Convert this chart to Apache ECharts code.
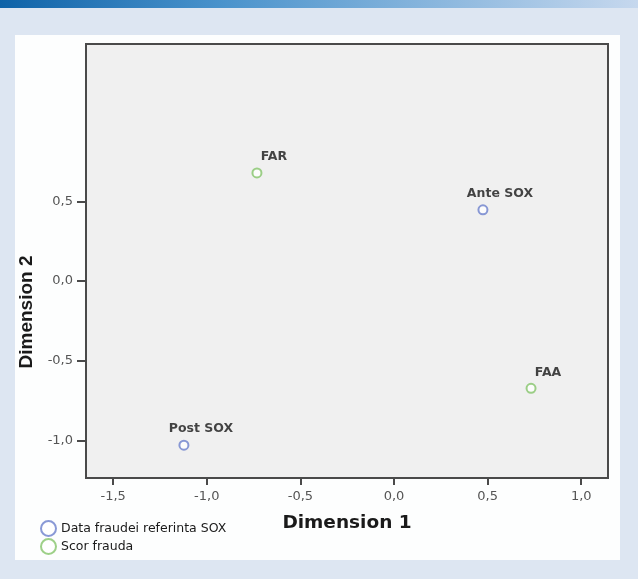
<!DOCTYPE html>
<html>
<head>
<meta charset="utf-8">
<script src="https://cdn.jsdelivr.net/npm/echarts@6/dist/echarts.min.js"></script>
<style>
  html, body { margin: 0; padding: 0; background: #dde6f2; }
  #chart { width: 638px; height: 579px; }
</style>
</head>
<body>
<div id="chart"></div>
<script>
// Joint plot of category points (two-dimensional solution)
const seriesNames = ['Data fraudei referinta SOX', 'Scor frauda'];
const soxLabels = ['Ante SOX', 'Post SOX'];
const soxDim1 = [0.475, -1.122];
const soxDim2 = [0.447, -1.028];
const scoreLabels = ['FAR', 'FAA'];
const scoreDim1 = [-0.732, 0.732];
const scoreDim2 = [0.678, -0.672];
const xTicks = [-1.5, -1.0, -0.5, 0.0, 0.5, 1.0];
const yTicks = [-1.0, -0.5, 0.0, 0.5];
const xRange = [-1.645, 1.143];
const yRange = [-1.234, 1.486];

function toPoints(xs, ys, names) {
  return xs.map((x, i) => ({ value: [x, ys[i]], name: names[i] }));
}
const fmt = v => v.toFixed(1).replace('.', ',');

const AXIS = '#4a4a4a';
const chart = echarts.init(document.getElementById('chart'));
const labelStyle = {
  show: true,
  position: 'top',
  distance: 4,
  offset: [17, 0],
  formatter: p => p.name,
  color: '#161616',
  fontFamily: 'DejaVu Sans, sans-serif',
  fontWeight: 'bold',
  fontSize: 12.5
};
const tickFont = {
  color: '#555555', fontSize: 13, fontFamily: 'DejaVu Sans, sans-serif'
};

chart.setOption({
  backgroundColor: '#dde6f2',
  animation: false,
  graphic: [
    {
      type: 'rect', z: -10,
      shape: { x: 0, y: 0, width: 638, height: 8 },
      style: {
        fill: new echarts.graphic.LinearGradient(0, 0, 1, 0, [
          { offset: 0, color: '#0f63a8' },
          { offset: 0.35, color: '#4a93cc' },
          { offset: 1, color: '#c6d8ee' }
        ])
      }
    },
    {
      type: 'rect', z: -10,
      shape: { x: 15, y: 35, width: 605, height: 525 },
      style: { fill: '#fdfefe' }
    }
  ],
  grid: {
    left: 86, top: 44, width: 522, height: 434,
    show: true,
    backgroundColor: '#f0f0f0',
    borderColor: AXIS,
    borderWidth: 2
  },
  legend: {
    orient: 'vertical',
    left: 35, top: 515,
    itemWidth: 15, itemHeight: 15,
    itemGap: 1,
    icon: 'emptyCircle',
    itemStyle: { borderWidth: 1.2 },
    textStyle: {
      color: '#1a1a1a',
      fontFamily: 'DejaVu Sans, sans-serif',
      fontSize: 12.5
    },
    data: seriesNames
  },
  xAxis: {
    type: 'value',
    min: xRange[0], max: xRange[1],
    name: 'Dimension 1',
    nameLocation: 'middle',
    nameGap: 36,
    nameTextStyle: {
      color: '#1a1a1a', fontWeight: 'bold', fontSize: 18.5,
      fontFamily: 'DejaVu Sans, sans-serif'
    },
    splitLine: { show: false },
    axisLine: { show: true, onZero: false, lineStyle: { color: AXIS, width: 2 } },
    axisTick: { show: true, length: 7, customValues: xTicks, lineStyle: { color: AXIS, width: 2 } },
    axisLabel: Object.assign({ customValues: xTicks, formatter: fmt, margin: 12 }, tickFont)
  },
  yAxis: {
    type: 'value',
    min: yRange[0], max: yRange[1],
    name: 'Dimension 2',
    nameLocation: 'middle',
    nameGap: 50,
    nameTextStyle: {
      color: '#1a1a1a', fontWeight: 'bold', fontSize: 19,
      fontFamily: 'Liberation Sans, Arial, sans-serif',
      padding: [0, 102, 0, 0]
    },
    splitLine: { show: false },
    axisLine: { show: true, onZero: false, lineStyle: { color: AXIS, width: 2 } },
    axisTick: { show: true, length: 9, customValues: yTicks, lineStyle: { color: AXIS, width: 2 } },
    axisLabel: Object.assign({ customValues: yTicks, formatter: fmt, margin: 13 }, tickFont)
  },
  series: [
    {
      name: seriesNames[0],
      type: 'scatter',
      symbol: 'emptyCircle',
      symbolSize: 9,
      itemStyle: { color: '#6b80cc', borderWidth: 1.5 },
      label: labelStyle,
      data: toPoints(soxDim1, soxDim2, soxLabels)
    },
    {
      name: seriesNames[1],
      type: 'scatter',
      symbol: 'emptyCircle',
      symbolSize: 9,
      itemStyle: { color: '#84c46a', borderWidth: 1.5 },
      label: labelStyle,
      data: toPoints(scoreDim1, scoreDim2, scoreLabels)
    }
  ]
});
</script>
</body>
</html>
